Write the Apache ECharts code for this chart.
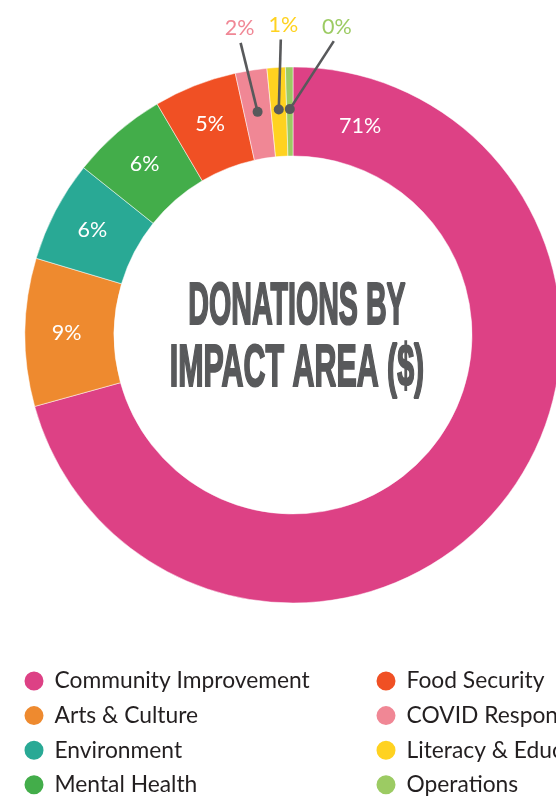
<!DOCTYPE html>
<html>
<head>
<meta charset="utf-8">
<script src="https://cdn.jsdelivr.net/npm/echarts@6/dist/echarts.min.js"></script>
<style>
html,body{margin:0;padding:0;background:#fff;}
#chart{width:556px;height:804px;}
</style>
</head>
<body>
<div id="chart"></div>
<script>
// ---- data ----
const categories = ['Community Improvement', 'Arts & Culture', 'Environment', 'Mental Health',
  'Food Security', 'COVID Response', 'Literacy & Education', 'Operations'];
const shares = [70.6, 8.9, 6.1, 5.8, 5.0, 1.9, 1.1, 0.45];
const colors = ['#DD4185', '#EE8A2F', '#29A995', '#43AD4A', '#F05024', '#F08795', '#FFD220', '#9CCB63'];
const insideLabelIdx = [1, 2, 3, 4];
const outsideLabelIdx = [5, 6, 7];
const titleLines = ['DONATIONS BY', 'IMPACT AREA ($)'];

// ---- layout / style ----
const CX = 293, CY = 335, R_IN = 179, R_OUT = 268;
const LABEL_FONT = 'Lato, "Noto Sans", sans-serif';
const DARK = '#58595B';
const titleLayout = [{ y: 307.5, scaleX: 0.485 }, { y: 370, scaleX: 0.515 }];
// leader offsets (px) relative to the dot for the outside labels
const leaderOffsets = {
  5: { lx: -17, ly: -69, tx: -18, ty: -84 },
  6: { lx: 2, ly: -70, tx: 4.5, ty: -84 },
  7: { lx: 44, ly: -68, tx: 47, ty: -82 }
};

const total = shares.reduce((a, b) => a + b, 0);
const cum = [];
shares.reduce((acc, v, i) => { cum[i] = acc; return acc + v; }, 0);
const midAngle = i => (cum[i] + shares[i] / 2) / total * 100;
const pct = v => Math.round(v) + '%';

const pieData = categories.map((name, i) => ({
  name,
  value: shares[i],
  itemStyle: { color: colors[i] },
  label: { show: insideLabelIdx.includes(i) }
}));

const leaderData = outsideLabelIdx.map(i => [0.843, midAngle(i), i]);

const legendCommon = {
  orient: 'vertical', top: 669.5, height: 200, padding: 0,
  icon: 'circle', itemWidth: 21, itemHeight: 21, itemGap: 11.6,
  selectedMode: false,
  textStyle: { fontSize: 22.8, color: '#231F20', fontFamily: LABEL_FONT, padding: [0, 0, 0, 5] }
};

const chart = echarts.init(document.getElementById('chart'), null, { renderer: 'canvas' });
chart.setOption({
  animation: false,
  backgroundColor: '#ffffff',
  polar: { center: [CX, CY], radius: R_OUT },
  angleAxis: { type: 'value', min: 0, max: 100, startAngle: 90, clockwise: true, show: false },
  radiusAxis: { type: 'value', min: 0, max: 1, show: false },
  legend: [
    Object.assign({}, legendCommon, { data: categories.slice(0, 4), left: 22.5 }),
    Object.assign({}, legendCommon, { data: categories.slice(4), left: 374.5 })
  ],
  graphic: titleLines.map((t, k) => ({
    type: 'text',
    x: 297, y: titleLayout[k].y,
    scaleX: titleLayout[k].scaleX,
    silent: true,
    style: {
      text: t, x: 0, y: 0, align: 'center', verticalAlign: 'middle',
      font: 'bold 59px "Liberation Sans Narrow", "Liberation Sans", sans-serif',
      fill: DARK, stroke: DARK, lineWidth: 2.2, lineJoin: 'round'
    }
  })),
  series: [
    {
      type: 'pie',
      center: [CX, CY],
      radius: [R_IN, R_OUT],
      startAngle: 90,
      clockwise: true,
      silent: true,
      avoidLabelOverlap: false,
      itemStyle: { borderColor: '#ffffff', borderWidth: 0.5 },
      label: {
        position: 'inside', color: '#ffffff', fontSize: 21.5, fontFamily: LABEL_FONT,
        formatter: p => pct(p.value)
      },
      labelLine: { show: false },
      emphasis: { disabled: true },
      data: pieData
    },
    {
      type: 'custom',
      coordinateSystem: 'polar',
      silent: true,
      z: 10,
      data: leaderData,
      renderItem: function (params, api) {
        const i = api.value(2);
        const p = api.coord([api.value(0), api.value(1)]);
        const o = leaderOffsets[i];
        return {
          type: 'group',
          children: [
            { type: 'line', shape: { x1: p[0], y1: p[1], x2: p[0] + o.lx, y2: p[1] + o.ly },
              style: { stroke: DARK, lineWidth: 2.6 } },
            { type: 'circle', shape: { cx: p[0], cy: p[1], r: 5 }, style: { fill: DARK } },
            { type: 'text', x: p[0] + o.tx, y: p[1] + o.ty,
              style: { text: pct(shares[i]), fill: colors[i], font: '21.5px ' + LABEL_FONT,
                align: 'center', verticalAlign: 'middle' } }
          ]
        };
      }
    },
    {
      type: 'custom',
      coordinateSystem: 'polar',
      silent: true,
      z: 10,
      data: [[0.819, 4.94, 0]],
      renderItem: function (params, api) {
        const i = api.value(2);
        const p = api.coord([api.value(0), api.value(1)]);
        return {
          type: 'text', x: p[0], y: p[1],
          style: { text: pct(shares[i]), fill: '#ffffff', font: '21.5px ' + LABEL_FONT,
            align: 'center', verticalAlign: 'middle' }
        };
      }
    }
  ]
});
</script>
</body>
</html>
